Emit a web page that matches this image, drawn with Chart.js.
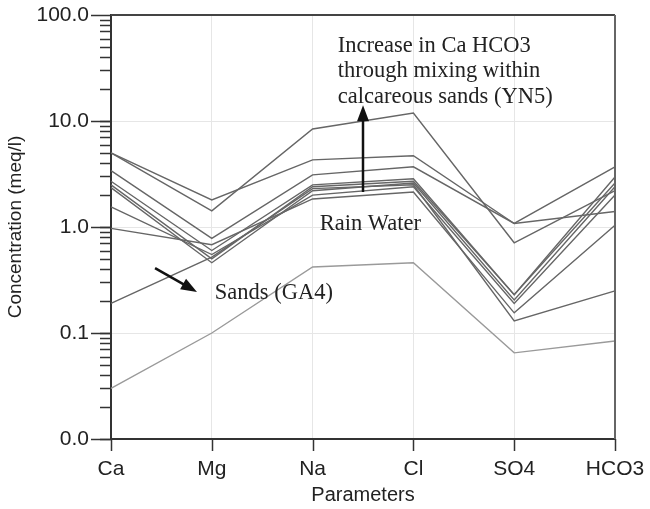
<!DOCTYPE html>
<html>
<head>
<meta charset="utf-8">
<script src="https://cdn.jsdelivr.net/npm/chart.js@4.4.1/dist/chart.umd.min.js"></script>
<style>
  html, body { margin: 0; padding: 0; background: #fff; }
  #wrap { width: 650px; height: 509px; }
</style>
</head>
<body>
<div id="wrap"><canvas id="schoeller" width="650" height="509"></canvas></div>
<script>
// Parametres (axe X)
const parameters = ['Ca', 'Mg', 'Na', 'Cl', 'SO4', 'HCO3'];

// Concentrations en meq/l pour chaque echantillon
const s1 = [5.0, 1.42, 8.4, 11.9, 0.71, 2.2];
const s2 = [5.0, 1.8, 4.3, 4.7, 1.08, 3.7];
const s3 = [3.4, 0.78, 3.1, 3.7, 1.08, 1.4];
const s4 = [2.7, 0.6, 2.5, 2.85, 0.23, 2.96];
const s5 = [2.5, 0.5, 2.4, 2.7, 0.23, 2.6];
const s6 = [2.35, 0.46, 2.2, 2.6, 0.205, 2.4];
const s7 = [1.55, 0.55, 2.0, 2.4, 0.19, 2.0];
const s8 = [0.97, 0.68, 1.84, 2.14, 0.155, 1.04];
const s9 = [0.19, 0.52, 2.3, 2.5, 0.13, 0.25];
const s10 = [0.03, 0.1, 0.42, 0.46, 0.065, 0.084];

const samples = [s1, s2, s3, s4, s5, s6, s7, s8, s9, s10];

// Graduations principales de l'axe Y
const yMajorTicks = [0.01, 0.1, 1, 10, 100];

function isDecade(v) {
  const l = Math.log10(v);
  return Math.abs(l - Math.round(l)) < 1e-6;
}

// cadre, graduations et annotations
const decorPlugin = {
  id: 'decor',
  afterDraw(chart) {
    const ctx = chart.ctx;
    const a = chart.chartArea;
    const xs = chart.scales.x;
    const ys = chart.scales.y;
    ctx.save();

    // cadre haut et droite
    ctx.strokeStyle = '#444';
    ctx.lineWidth = 2;
    ctx.beginPath();
    ctx.moveTo(a.left, a.top);
    ctx.lineTo(a.right, a.top);
    ctx.stroke();
    ctx.strokeStyle = '#666';
    ctx.beginPath();
    ctx.moveTo(a.right, a.top);
    ctx.lineTo(a.right, a.bottom);
    ctx.stroke();

    // petites graduations log sur l'axe Y
    ctx.strokeStyle = '#333';
    ctx.lineWidth = 1.5;
    for (let d = -2; d < 2; d++) {
      for (let k = 1; k <= 9; k++) {
        const v = k * Math.pow(10, d);
        const py = Math.round(ys.getPixelForValue(v)) + 0.5;
        ctx.beginPath();
        ctx.moveTo(a.left - 11, py);
        ctx.lineTo(a.left, py);
        ctx.stroke();
      }
    }
    yMajorTicks.forEach(v => {
      const py = Math.round(ys.getPixelForValue(v)) + 0.5;
      ctx.beginPath();
      ctx.moveTo(a.left - 20, py);
      ctx.lineTo(a.left, py);
      ctx.stroke();
    });

    // graduations de l'axe X
    parameters.forEach((p, i) => {
      const px = Math.round(xs.getPixelForValue(i)) + 0.5;
      ctx.beginPath();
      ctx.moveTo(px, a.bottom);
      ctx.lineTo(px, a.bottom + 12);
      ctx.stroke();
    });

    // annotations
    ctx.fillStyle = '#222';
    ctx.font = '22.5px "Liberation Serif", "DejaVu Serif", serif';
    ctx.textBaseline = 'alphabetic';
    ctx.textAlign = 'left';
    const tx = xs.getPixelForValue(2.25);
    const ty = ys.getPixelForValue(44.8);
    ['Increase in Ca HCO3', 'through mixing within', 'calcareous sands (YN5)']
      .forEach((t, i) => ctx.fillText(t, tx, ty + i * 25.5));
    ctx.fillText('Rain Water', xs.getPixelForValue(2.07), ys.getPixelForValue(0.94));
    ctx.fillText('Sands (GA4)', xs.getPixelForValue(1.03), ys.getPixelForValue(0.21));

    arrow(ctx, xs.getPixelForValue(2.5), ys.getPixelForValue(2.14),
               xs.getPixelForValue(2.5), ys.getPixelForValue(14.1));
    arrow(ctx, xs.getPixelForValue(0.437), ys.getPixelForValue(0.41),
               xs.getPixelForValue(0.853), ys.getPixelForValue(0.244));
    ctx.restore();
  }
};

function arrow(ctx, x1, y1, x2, y2) {
  const ang = Math.atan2(y2 - y1, x2 - x1);
  const len = 16, half = 6;
  ctx.strokeStyle = '#111';
  ctx.fillStyle = '#111';
  ctx.lineWidth = 2.5;
  ctx.beginPath();
  ctx.moveTo(x1, y1);
  ctx.lineTo(x2 - Math.cos(ang) * len * 0.8, y2 - Math.sin(ang) * len * 0.8);
  ctx.stroke();
  ctx.beginPath();
  ctx.moveTo(x2, y2);
  ctx.lineTo(x2 - Math.cos(ang) * len - Math.sin(ang) * half, y2 - Math.sin(ang) * len + Math.cos(ang) * half);
  ctx.lineTo(x2 - Math.cos(ang) * len + Math.sin(ang) * half, y2 - Math.sin(ang) * len - Math.cos(ang) * half);
  ctx.closePath();
  ctx.fill();
}

const ctx = document.getElementById('schoeller').getContext('2d');
new Chart(ctx, {
  type: 'line',
  data: {
    labels: parameters,
    datasets: samples.map((s, i) => ({
      label: 'S' + (i + 1),
      data: s,
      borderColor: i === 9 ? '#9a9a9a' : '#666',
      borderWidth: 1.4,
      pointRadius: 0,
      fill: false,
      tension: 0
    }))
  },
  options: {
    responsive: false,
    animation: false,
    devicePixelRatio: 1,
    layout: { padding: { top: 15, right: 35, left: 0, bottom: 0 } },
    plugins: {
      legend: { display: false },
      tooltip: { enabled: false }
    },
    scales: {
      x: {
        type: 'category',
        offset: false,
        afterFit: s => { s.height = 70; s.paddingLeft = 0; s.paddingRight = 0; },
        grid: { color: '#e6e6e6', drawTicks: false },
        border: { color: '#333', width: 2 },
        ticks: { color: '#222', padding: 18, font: { family: '"Liberation Sans", Arial, sans-serif', size: 21 } },
        title: {
          display: true,
          text: 'Parameters',
          color: '#222',
          padding: { top: 0, bottom: 2 },
          font: { family: '"Liberation Sans", Arial, sans-serif', size: 20 }
        }
      },
      y: {
        type: 'logarithmic',
        min: 0.01,
        max: 100,
        afterFit: s => { s.width = 111; s.paddingTop = 0; s.paddingBottom = 0; },
        grid: {
          drawTicks: false,
          color: c => (c.tick && isDecade(c.tick.value)) ? '#e6e6e6' : 'rgba(0,0,0,0)'
        },
        border: { color: '#333', width: 2 },
        ticks: {
          autoSkip: false,
          padding: 22,
          color: '#222',
          font: { family: '"Liberation Sans", Arial, sans-serif', size: 21 },
          callback: v => isDecade(v) ? v.toFixed(1) : ''
        },
        title: {
          display: true,
          text: 'Concentration (meq/l)',
          color: '#222',
          padding: { top: 4, bottom: 0 },
          font: { family: '"Liberation Sans", Arial, sans-serif', size: 19 }
        }
      }
    }
  },
  plugins: [decorPlugin]
});
</script>
</body>
</html>
